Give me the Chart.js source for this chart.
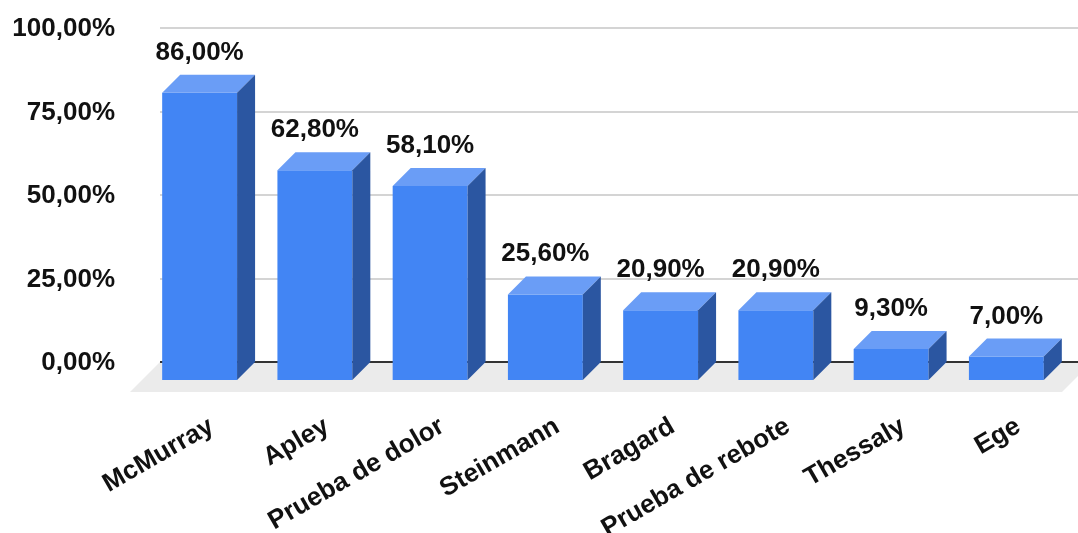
<!DOCTYPE html>
<html>
<head>
<meta charset="utf-8">
<script src="https://cdn.jsdelivr.net/npm/chart.js@4"></script>
<style>
  html, body { margin: 0; padding: 0; background: #ffffff; }
  #c { display: block; }
</style>
</head>
<body>
<canvas id="c" width="1078" height="533"></canvas>
<script>
const categories = ['McMurray', 'Apley', 'Prueba de dolor', 'Steinmann', 'Bragard', 'Prueba de rebote', 'Thessaly', 'Ege'];
const values = [86.0, 62.8, 58.1, 25.6, 20.9, 20.9, 9.3, 7.0];
const yTicks = [0, 25, 50, 75, 100];

const FRONT = '#4285f4';
const TOP = '#6a9df6';
const SIDE = '#2b56a1';
const DX = 18, DY = 18;
const FONT = { family: '"Liberation Sans", Arial, sans-serif', size: 26, weight: 'bold' };

function fmt(v) { return v.toFixed(2).replace('.', ',') + '%'; }

const threeD = {
  id: 'threeD',
  beforeDatasetsDraw(chart) {
    const { ctx, chartArea: a, scales: { x, y } } = chart;
    const base = y.getPixelForValue(0);
    ctx.save();
    // floor
    ctx.fillStyle = '#ebebeb';
    ctx.beginPath();
    ctx.moveTo(a.left + DX, base - DY);
    ctx.lineTo(a.right + DX + 10, base - DY);
    ctx.lineTo(a.right - 2, base + 12);
    ctx.lineTo(a.left - 12, base + 12);
    ctx.closePath();
    ctx.fill();
    // gridlines on back plane
    y.ticks.forEach(t => {
      const py = Math.round(y.getPixelForValue(t.value) - DY);
      ctx.beginPath();
      ctx.strokeStyle = t.value === 0 ? '#333333' : '#d4d4d4';
      ctx.lineWidth = 2;
      ctx.moveTo(a.left + DX, py);
      ctx.lineTo(chart.width, py);
      ctx.stroke();
    });
    ctx.restore();
  },
  afterDatasetsDraw(chart) {
    const { ctx } = chart;
    const meta = chart.getDatasetMeta(0);
    ctx.save();
    meta.data.forEach((el, i) => {
      const p = el.getProps(['x', 'y', 'base', 'width'], true);
      const l = p.x - p.width / 2, r = p.x + p.width / 2;
      const t = p.y, b = p.base;
      // top face
      ctx.fillStyle = TOP;
      ctx.beginPath();
      ctx.moveTo(l, t); ctx.lineTo(r, t); ctx.lineTo(r + DX, t - DY); ctx.lineTo(l + DX, t - DY);
      ctx.closePath(); ctx.fill();
      // side face
      ctx.fillStyle = SIDE;
      ctx.beginPath();
      ctx.moveTo(r, t); ctx.lineTo(r + DX, t - DY); ctx.lineTo(r + DX, b - DY); ctx.lineTo(r, b);
      ctx.closePath(); ctx.fill();
      // value label
      ctx.fillStyle = '#111111';
      ctx.font = `${FONT.weight} ${FONT.size}px ${FONT.family}`;
      ctx.textAlign = 'center';
      ctx.textBaseline = 'alphabetic';
      ctx.fillText(fmt(values[i]), p.x, t - DY - 15);
    });
    ctx.restore();
  }
};

new Chart(document.getElementById('c'), {
  type: 'bar',
  data: {
    labels: categories,
    datasets: [{
      data: values,
      backgroundColor: FRONT,
      borderWidth: 0,
      barPercentage: 0.65,
      categoryPercentage: 1.0
    }]
  },
  options: {
    responsive: false,
    animation: false,
    layout: { padding: { top: 46, right: 14, left: 0, bottom: 0 } },
    plugins: { legend: { display: false }, tooltip: { enabled: false } },
    scales: {
      x: {
        afterFit(s) { s.height = 153; },
        grid: { display: false, drawTicks: false },
        border: { display: false },
        ticks: {
          autoSkip: false,
          maxRotation: 30,
          minRotation: 30,
          padding: 31,
          labelOffset: 12,
          color: '#111111',
          font: FONT
        }
      },
      y: {
        min: 0,
        max: 100,
        afterFit(s) { s.width = 142; },
        afterBuildTicks(s) { s.ticks = yTicks.map(v => ({ value: v })); },
        grid: { display: false, drawTicks: false },
        border: { display: false },
        ticks: {
          padding: 27,
          labelOffset: -17,
          color: '#111111',
          font: FONT,
          callback: v => fmt(v)
        }
      }
    }
  },
  plugins: [threeD]
});
</script>
</body>
</html>
